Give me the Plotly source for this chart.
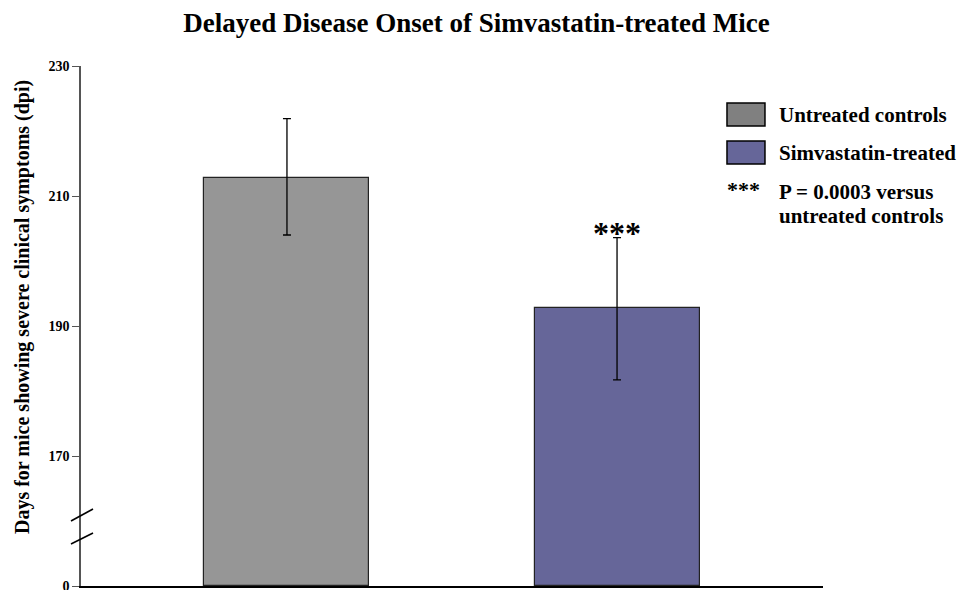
import plotly.graph_objects as go

# Data
groups = ["Untreated controls", "Simvastatin-treated"]
mean_days = [212.8, 192.8]
err_plus = [9.1, 10.8]
err_minus = [8.8, 11.1]
bar_colors = ["#969696", "#666699"]
legend_colors = ["#808080", "#666699"]
tick_vals = [150, 170, 190, 210, 230]
tick_text = ["0", "170", "190", "210", "230"]
axis_base = 150
sig_label = "***"
note_lines = ["P = 0.0003 versus", "untreated controls"]
y_title = "Days for mice showing severe clinical symptoms (dpi)"
chart_title = "Delayed Disease Onset of Simvastatin-treated Mice"

FONT = "Liberation Serif, Times New Roman, serif"
OFF = 8  # page body margin compensation

fig = go.Figure()
fig.add_trace(go.Bar(
    x=groups,
    y=[m - axis_base for m in mean_days],
    base=axis_base,
    width=0.5,
    marker=dict(color=bar_colors, line=dict(color="#222222", width=1.2)),
    error_y=dict(type="data", symmetric=False, array=err_plus, arrayminus=err_minus,
                 color="#000000", thickness=1.3, width=4),
    showlegend=False,
    hoverinfo="skip",
))

# significance stars above treated bar
fig.add_annotation(x=groups[1], y=mean_days[1] + err_plus[1], text="<b>%s</b>" % sig_label,
                   showarrow=False, yanchor="bottom", yshift=-15,
                   font=dict(family=FONT, size=32, color="#000000"))

# axis break marks
for y0, y1 in [(160.0, 161.85), (156.46, 158.15)]:
    fig.add_shape(type="line", xref="paper", yref="y",
                  x0=-0.0135, x1=0.0162, y0=y0, y1=y1,
                  line=dict(color="#000000", width=1.6))

# custom legend
box_y = [(0.9288, 0.8846), (0.8558, 0.8115)]
for (yt, yb), col, name in zip(box_y, legend_colors, groups):
    fig.add_shape(type="rect", xref="paper", yref="paper",
                  x0=0.8706, x1=0.9218, y0=yb, y1=yt,
                  fillcolor=col, line=dict(color="#000000", width=1.5))
    fig.add_annotation(xref="paper", yref="paper", x=0.9380, y=(yt + yb) / 2,
                       text="<b>%s</b>" % name, showarrow=False,
                       xanchor="left", yanchor="middle",
                       font=dict(family=FONT, size=21, color="#000000"))
fig.add_annotation(xref="paper", yref="paper", x=0.8680, y=0.7620,
                   text="<b>%s</b>" % sig_label, showarrow=False,
                   xanchor="left", yanchor="middle",
                   font=dict(family=FONT, size=22, color="#000000"))
for yp, line in zip([0.7577, 0.7115], note_lines):
    fig.add_annotation(xref="paper", yref="paper", x=0.9380, y=yp,
                       text="<b>%s</b>" % line, showarrow=False,
                       xanchor="left", yanchor="middle", align="left",
                       font=dict(family=FONT, size=21, color="#000000"))

# y-axis title as annotation (sits above plot centre in reference)
fig.add_annotation(xref="paper", yref="paper", x=-0.0795, y=0.5365,
                   text="<b>%s</b>" % y_title, textangle=-90, showarrow=False,
                   xanchor="center", yanchor="middle",
                   font=dict(family=FONT, size=20, color="#000000"))

W, H = 969, 590
fig.update_layout(
    width=W, height=H,
    margin=dict(l=81 - OFF, r=W - (823 - OFF), t=66 - OFF, b=H - (586 - OFF), autoexpand=False),
    paper_bgcolor="#ffffff", plot_bgcolor="#ffffff",
    title=dict(text="<b>%s</b>" % chart_title,
               x=(476.5 - OFF) / W, xanchor="center", y=1 - (23 - OFF) / H, yanchor="middle",
               font=dict(family=FONT, size=27, color="#000000")),
    font=dict(family=FONT, color="#000000"),
    bargap=0,
)
fig.update_xaxes(type="category", range=[-0.624, 1.624], showticklabels=False,
                 showline=True, linecolor="#000000", linewidth=1.5, automargin=False,
                 ticks="", showgrid=False, zeroline=False, fixedrange=True)
fig.update_yaxes(range=[150, 230], tickvals=tick_vals,
                 ticktext=["<b>%s</b>" % t for t in tick_text],
                 ticks="outside", ticklen=7, tickcolor="#555555", tickwidth=1.3,
                 showline=True, linecolor="#555555", linewidth=1.5, automargin=False,
                 showgrid=False, zeroline=False,
                 tickfont=dict(family=FONT, size=14, color="#000000"))

fig.write_html("out.html")
